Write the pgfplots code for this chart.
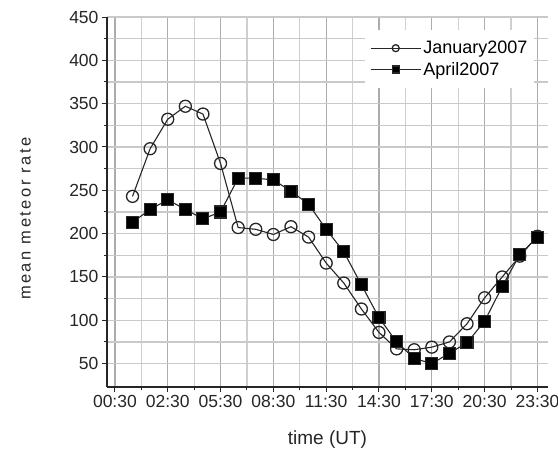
\documentclass[border=0pt]{standalone}
\usepackage{pgfplots}
\usepackage{pgfplotstable}
\pgfplotsset{compat=1.18}
\usepackage{fontspec}
\setmainfont{Liberation Sans}

\pgfplotstableread{
x  jan  apr
1  243  213
2  298  228
3  332  239
4  347  228
5  338  217
6  281  225
7  207  264
8  205  264
9  199  262
10 208  249
11 196  234
12 166  205
13 143  179
14 113  141
15 86   103
16 67   75
17 66   56
18 69   50
19 75   62
20 96   74
21 126  99
22 150  139
23 174  176
24 197  196
}\meteordata

\begin{document}
\begin{tikzpicture}
\begin{axis}[
  scale only axis,
  width=441pt, height=370pt,
  xmin=-0.45, xmax=24.6,
  ymin=23, ymax=450,
  axis lines=left,
  axis line style={-, line width=1.2pt, black!85},
  xtick={0,3,...,24},
  xticklabels={00:30,02:30,05:30,08:30,11:30,14:30,17:30,20:30,23:30},
  ytick={50,100,...,450},
  minor x tick num=1,
  minor y tick num=1,
  tick align=outside,
  major tick length=5pt,
  minor tick length=3pt,
  tick style={black!85, line width=1pt},
  grid=both,
  major x grid style={gray!65, line width=1.2pt},
  minor x grid style={gray!38, line width=1.2pt},
  major y grid style={gray!42, line width=1.2pt},
  minor y grid style={gray!42, line width=1.2pt},
  /pgf/number format/assume math mode=true,
  ticklabel style={font=\fontsize{17.5}{20}\selectfont, text=black!85},
  xlabel={time (UT)},
  ylabel={mean meteor rate},
  xlabel style={font=\fontsize{19}{22}\selectfont, text=black!85,
    at={(axis description cs:0.5,-0.143)}, anchor=center},
  ylabel style={font=\fontsize{16.5}{20}\selectfont\addfontfeature{LetterSpace=15}, text=black!85,
    at={(axis description cs:-0.185,0.455)}, anchor=center},
  legend style={at={(axis description cs:0.585,0.965)}, anchor=north west,
    draw=none, fill=white, font=\fontsize{18}{20}\selectfont,
    inner xsep=5pt, inner ysep=9pt, row sep=3pt},
  legend cell align=left,
  legend image code/.code={
    \draw[mark repeat=2, mark phase=2, #1, mark size=3.5pt]
      plot coordinates {(0pt,0pt) (25pt,0pt) (50pt,0pt)};
  },
]
\addplot[black!85, line width=1.1pt, mark=o, mark size=6pt,
  mark options={fill=white, line width=1.3pt}]
  table[x=x, y=jan] {\meteordata};
\addlegendentry{January2007}
\addplot[black!85, line width=1.1pt, mark=square*, mark size=6pt,
  mark options={fill=black}]
  table[x=x, y=apr] {\meteordata};
\addlegendentry{April2007}
\end{axis}
\pgfresetboundingbox
\path ([xshift=-107pt,yshift=-70pt]current axis.south west)
  rectangle ([xshift=10pt,yshift=17pt]current axis.north east);
\end{tikzpicture}
\end{document}
